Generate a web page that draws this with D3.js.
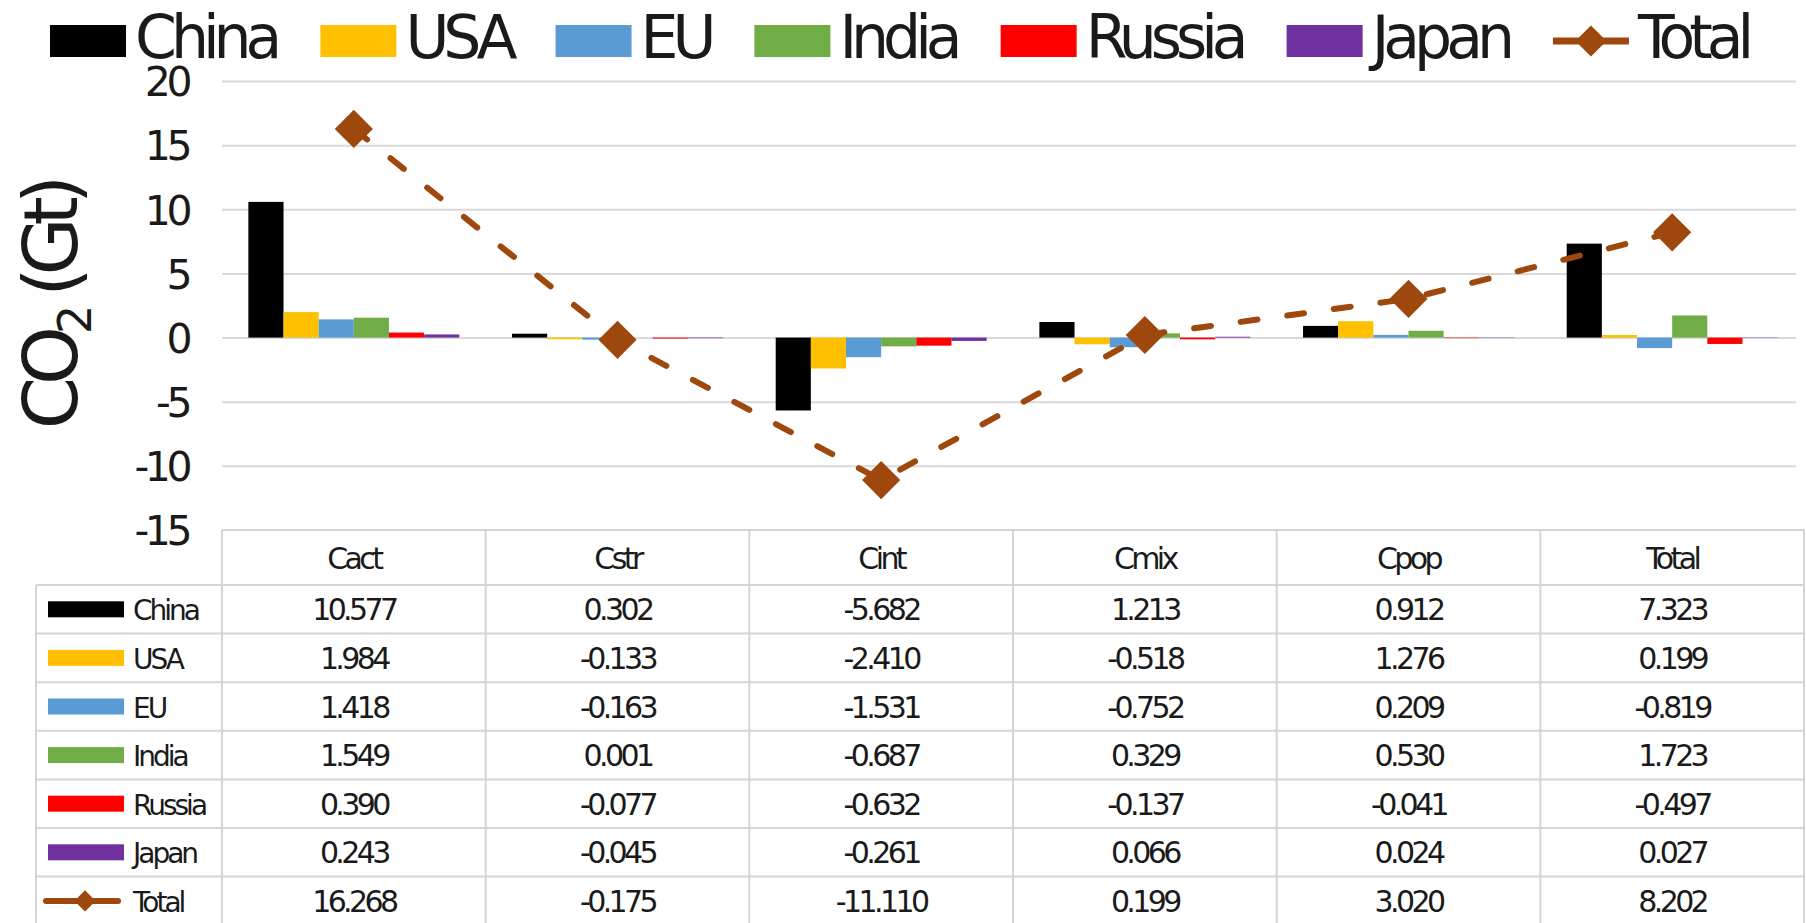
<!DOCTYPE html>
<html>
<head>
<meta charset="utf-8">
<script src="https://cdn.jsdelivr.net/npm/d3@7"></script>
<style>
  html, body { margin: 0; padding: 0; background: #fff; }
  svg { display: block; }
  text { font-family: "DejaVu Sans", sans-serif; fill: #1a1a1a; }
</style>
</head>
<body>
<svg id="chart" width="1806" height="923"></svg>
<script>
// ---------- data ----------
const categories = ["Cact", "Cstr", "Cint", "Cmix", "Cpop", "Total"];
const seriesNames = ["China", "USA", "EU", "India", "Russia", "Japan"];
const seriesColors = ["#000000", "#FFC000", "#5B9BD5", "#70AD47", "#FF0000", "#7030A0"];
const china  = [10.577, 0.302, -5.682, 1.213, 0.912, 7.323];
const usa    = [1.984, -0.133, -2.410, -0.518, 1.276, 0.199];
const eu     = [1.418, -0.163, -1.531, -0.752, 0.209, -0.819];
const india  = [1.549, 0.001, -0.687, 0.329, 0.530, 1.723];
const russia = [0.390, -0.077, -0.632, -0.137, -0.041, -0.497];
const japan  = [0.243, -0.045, -0.261, 0.066, 0.024, 0.027];
const total  = [16.268, -0.175, -11.110, 0.199, 3.020, 8.202];
const totalName = "Total";
const totalColor = "#9E480E";
const yTicks = [-15, -10, -5, 0, 5, 10, 15, 20];
const yTitle = "CO";
const yTitleSub = "2";
const yTitleRest = " (Gt)";

const seriesValues = [china, usa, eu, india, russia, japan];

// hyphen-minus locale (as in the reference)
const locale = d3.formatLocale({ decimal: ".", thousands: ",", grouping: [3], currency: ["", ""], minus: "-" });

// ---------- layout ----------
const svg = d3.select("#chart");
const plotLeft = 222, plotRight = 1804;
const yTop = 81, yBottom = 530;
const headerTop = 530, headerBottom = 585, rowH = 48.6;
const tableLeft = 36;
const gridColor = "#d9d9d9";

const x = d3.scaleBand().domain(categories).range([plotLeft, plotRight]);
const x1 = d3.scaleBand().domain(seriesNames).range([0, x.bandwidth()]).paddingOuter(0.75).paddingInner(0);
const y = d3.scaleLinear().domain([-15, 20]).range([yBottom, yTop]);

// gridlines
const grid = svg.append("g").attr("class", "grid")
  .attr("transform", `translate(${plotLeft},0)`)
  .call(d3.axisRight(y).tickValues(yTicks.filter(t => t !== -15)).tickSize(plotRight - plotLeft - 8).tickFormat(""));
grid.select(".domain").remove();
grid.selectAll("line").attr("stroke", gridColor).attr("stroke-width", 2);

// y axis labels
const yAxis = svg.append("g").attr("transform", `translate(188,0)`)
  .call(d3.axisLeft(y).tickValues(yTicks).tickSize(0).tickPadding(0).tickFormat(locale.format("d")));
yAxis.select(".domain").remove();
yAxis.selectAll("text")
  .attr("font-size", 41).attr("letter-spacing", -4.5).attr("fill", "#1a1a1a")
  .attr("font-family", "DejaVu Sans").attr("dy", "0.36em");

// y title
const yt = svg.append("text")
  .attr("transform", `translate(77,306) rotate(-90)`)
  .attr("text-anchor", "middle")
  .attr("font-size", 75).attr("letter-spacing", -8);
yt.append("tspan").text(yTitle);
yt.append("tspan").attr("font-size", 46).attr("dy", 14).text(yTitleSub);
yt.append("tspan").attr("dy", -14).text(yTitleRest);

// bars
const barG = svg.append("g");
seriesNames.forEach((name, si) => {
  barG.append("g").selectAll("rect")
    .data(seriesValues[si])
    .join("rect")
    .attr("x", (d, i) => x(categories[i]) + x1(name))
    .attr("width", x1.bandwidth())
    .attr("y", d => y(Math.max(0, d)))
    .attr("height", d => Math.abs(y(d) - y(0)))
    .attr("fill", seriesColors[si]);
});

// total line
const line = d3.line().x((d, i) => x(categories[i]) + x.bandwidth() / 2).y(d => y(d));
svg.append("path").datum(total)
  .attr("d", line)
  .attr("fill", "none").attr("stroke", totalColor).attr("stroke-width", 6)
  .attr("stroke-dasharray", "17 30").attr("stroke-linecap", "round");
svg.append("g").selectAll("path").data(total).join("path")
  .attr("d", d3.symbol().type(d3.symbolSquare).size(27 * 27))
  .attr("transform", (d, i) => `translate(${x(categories[i]) + x.bandwidth() / 2},${y(d)}) rotate(45)`)
  .attr("fill", totalColor);

// ---------- top legend ----------
const legend = svg.append("g");
let lx = 50;
const legendItems = seriesNames.map((n, i) => ({ name: n, color: seriesColors[i], type: "rect" }))
  .concat([{ name: totalName, color: totalColor, type: "line" }]);
legendItems.forEach(item => {
  const g = legend.append("g");
  if (item.type === "rect") {
    g.append("rect").attr("x", lx).attr("y", 25).attr("width", 76).attr("height", 32).attr("fill", item.color);
  } else {
    g.append("line").attr("x1", lx).attr("x2", lx + 76).attr("y1", 41).attr("y2", 41)
      .attr("stroke", item.color).attr("stroke-width", 7);
    g.append("path").attr("d", d3.symbol().type(d3.symbolSquare).size(22 * 22))
      .attr("transform", `translate(${lx + 38},41) rotate(45)`).attr("fill", item.color);
  }
  const t = g.append("text").attr("x", lx + 85).attr("y", 58)
    .attr("font-size", 60).attr("letter-spacing", -6.0).text(item.name);
  const w = t.node().getComputedTextLength();
  lx = lx + 85 + w + 44;
});

// ---------- data table ----------
const table = svg.append("g");
const tableRight = plotRight;
const nRows = seriesNames.length + 1;
const tableBottom = headerBottom + nRows * rowH;
const borderColor = "#d4d4d4";
table.append("line").attr("x1", plotLeft).attr("x2", tableRight).attr("y1", headerTop).attr("y2", headerTop)
  .attr("stroke", borderColor).attr("stroke-width", 2);
d3.range(nRows + 1).forEach(r => {
  table.append("line").attr("x1", tableLeft).attr("x2", tableRight)
    .attr("y1", headerBottom + r * rowH).attr("y2", headerBottom + r * rowH)
    .attr("stroke", borderColor).attr("stroke-width", 2);
});
table.append("line").attr("x1", tableLeft).attr("x2", tableLeft).attr("y1", headerBottom).attr("y2", tableBottom)
  .attr("stroke", borderColor).attr("stroke-width", 2);
categories.concat(["end"]).forEach((c, i) => {
  const xx = i < categories.length ? x(c) : plotRight;
  table.append("line").attr("x1", xx).attr("x2", xx).attr("y1", headerTop).attr("y2", tableBottom)
    .attr("stroke", borderColor).attr("stroke-width", 2);
});
table.selectAll("text.hdr").data(categories).join("text").attr("class", "hdr")
  .attr("x", d => x(d) + x.bandwidth() / 2).attr("y", (headerTop + headerBottom) / 2 + 11)
  .attr("text-anchor", "middle").attr("font-size", 30).attr("letter-spacing", -3.6).text(d => d);
const fmt = locale.format(".3f");
const rowData = seriesValues.concat([total]);
const rowNames = seriesNames.concat([totalName]);
rowData.forEach((vals, r) => {
  const cy = headerBottom + r * rowH + rowH / 2;
  if (r < seriesNames.length) {
    table.append("rect").attr("x", 48).attr("y", cy - 8).attr("width", 76).attr("height", 16).attr("fill", seriesColors[r]);
  } else {
    table.append("line").attr("x1", 46).attr("x2", 118).attr("y1", cy).attr("y2", cy)
      .attr("stroke", totalColor).attr("stroke-width", 6).attr("stroke-linecap", "round");
    table.append("path").attr("d", d3.symbol().type(d3.symbolSquare).size(15 * 15))
      .attr("transform", `translate(85,${cy}) rotate(45)`).attr("fill", totalColor);
  }
  table.append("text").attr("x", 133).attr("y", cy + 11).attr("font-size", 28).attr("letter-spacing", -3)
    .text(rowNames[r]);
  table.append("g").selectAll("text").data(vals).join("text")
    .attr("x", (d, i) => x(categories[i]) + x.bandwidth() / 2)
    .attr("y", cy + 11)
    .attr("text-anchor", "middle").attr("font-size", 30).attr("letter-spacing", -3.6)
    .text(d => fmt(d));
});
</script>
</body>
</html>
